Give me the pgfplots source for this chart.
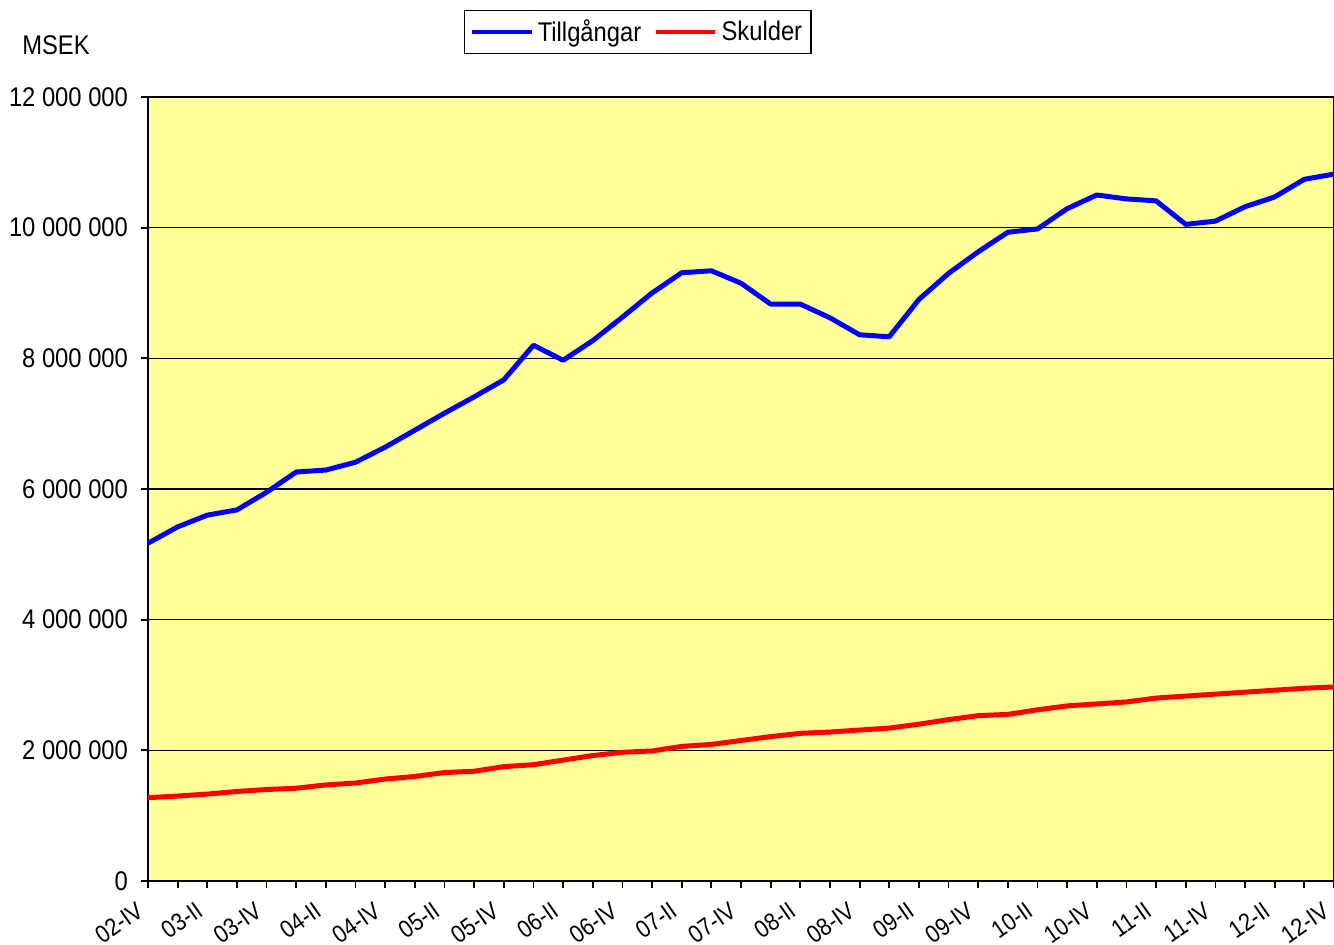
\documentclass[border=0pt]{standalone}
\usepackage{fontspec}
\setmainfont{Liberation Sans}[FakeStretch=0.88]
\usepackage{pgfplots}
\usepackage{pgfplotstable}
\pgfplotsset{compat=1.18}
\definecolor{bgyellow}{HTML}{FFFF99}
\pgfplotstableread{
i tillg skuld
0 5170000 1275000
1 5420000 1300000
2 5600000 1330000
3 5680000 1370000
4 5950000 1400000
5 6260000 1420000
6 6290000 1470000
7 6410000 1500000
8 6640000 1560000
9 6900000 1600000
10 7160000 1660000
11 7410000 1680000
12 7670000 1750000
13 8200000 1780000
14 7970000 1850000
15 8270000 1920000
16 8630000 1970000
17 9000000 1990000
18 9310000 2060000
19 9340000 2090000
20 9150000 2150000
21 8830000 2210000
22 8830000 2260000
23 8620000 2280000
24 8360000 2310000
25 8330000 2340000
26 8900000 2400000
27 9300000 2470000
28 9630000 2530000
29 9930000 2550000
30 9980000 2620000
31 10290000 2680000
32 10500000 2710000
33 10440000 2740000
34 10410000 2800000
35 10050000 2830000
36 10100000 2860000
37 10320000 2890000
38 10470000 2920000
39 10740000 2950000
40 10820000 2970000
}\datatable
\begin{document}
\begin{tikzpicture}
\begin{axis}[
  name=main,
  scale only axis, width=593pt, height=392pt,
  xmin=0, xmax=40, ymin=0, ymax=12000000,
  scaled y ticks=false,
  axis background/.style={fill=bgyellow},
  axis line style={black, line width=0.9pt},
  tick align=outside, tick pos=left, tick style={black, line width=0.9pt},
  major tick length=3.5pt, minor tick length=3.5pt,
  xtick={0,2,...,40}, minor xtick={1,3,...,39},
  xticklabels={02-IV,03-II,03-IV,04-II,04-IV,05-II,05-IV,06-II,06-IV,07-II,07-IV,08-II,08-IV,09-II,09-IV,10-II,10-IV,11-II,11-IV,12-II,12-IV},
  x tick label style={xshift=-3pt, yshift=-9.3pt, rotate=35, anchor=east, font=\fontsize{12.3}{14}\selectfont, inner sep=1pt},
  ytick={0,2000000,4000000,6000000,8000000,10000000,12000000},
  yticklabels={0,2 000 000,4 000 000,6 000 000,8 000 000,10 000 000,12 000 000},
  y tick label style={font=\fontsize{13.5}{16}\selectfont, xshift=-3pt},
  ymajorgrids, grid style={black, line width=0.8pt},
  legend style={at={(0.413,1.111)}, anchor=north, legend columns=2, draw=black, line width=0.7pt,
    font=\fontsize{13.5}{16}\selectfont, inner sep=2.5pt, row sep=0pt,
    /tikz/every even column/.append style={column sep=4pt}},
  legend image code/.code={\draw[#1, line width=2.3pt] (0cm,0cm) -- (1.05cm,0cm);},
  clip=false,
]
\addplot[blue, line width=2.5pt, line join=round] table[x=i, y=tillg] {\datatable};
\addlegendentry{Tillgångar}
\addplot[red, line width=2.5pt, line join=round] table[x=i, y=skuld] {\datatable};
\addlegendentry{Skulder}
\node[font=\fontsize{13.5}{16}\selectfont] at (rel axis cs:-0.0776,1.066) {MSEK};
\end{axis}
\pgfresetboundingbox
\path[use as bounding box] ([shift={(-74pt,-32pt)}]main.south west) rectangle ([shift={(0pt,48.5pt)}]main.north east);
\end{tikzpicture}
\end{document}
